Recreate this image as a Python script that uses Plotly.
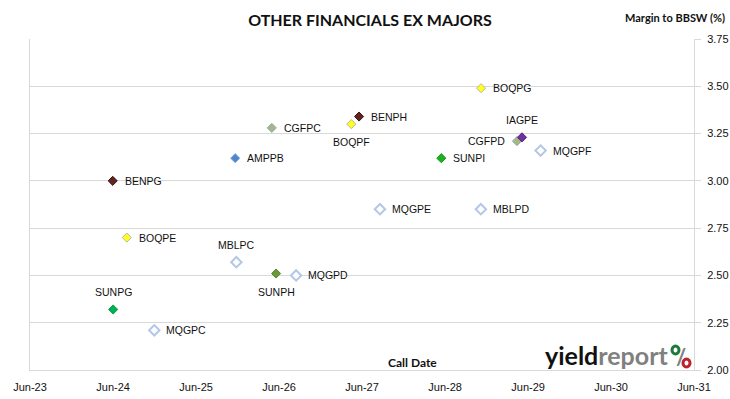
import plotly.graph_objects as go

# ---- data ----
securities = ["BENPG", "BOQPE", "SUNPG", "MQGPC", "AMPPB", "MBLPC", "CGFPC", "SUNPH", "MQGPD",
              "BOQPF", "BENPH", "MQGPE", "SUNPI", "BOQPG", "MBLPD", "CGFPD", "IAGPE", "MQGPF"]
call_dates = ["2024-05-30", "2024-07-31", "2024-06-01", "2024-11-29", "2025-11-20", "2025-11-25",
              "2026-04-30", "2026-05-19", "2026-08-15", "2027-04-15", "2027-05-19", "2027-08-19",
              "2028-05-15", "2028-11-06", "2028-11-05", "2029-04-13", "2029-05-05", "2029-07-26"]
margins = [3.00, 2.70, 2.32, 2.21, 3.12, 2.57, 3.28, 2.51, 2.50,
           3.30, 3.34, 2.85, 3.12, 3.49, 2.85, 3.21, 3.23, 3.16]
label_side = ["r", "r", "t", "r", "r", "t", "r", "b", "r",
              "b", "r", "r", "r", "r", "r", "l", "t", "r"]
x_ticks = ["2023-06-01", "2024-06-01", "2025-06-01", "2026-06-01", "2027-06-01",
           "2028-06-01", "2029-06-01", "2030-06-01", "2031-06-01"]
y_ticks = [2.00, 2.25, 2.50, 2.75, 3.00, 3.25, 3.50, 3.75]

# ---- styles per issuer ----
styles = {
    "BENPG": ("#632420", "#3A1210", 7, 1),
    "BENPH": ("#632420", "#3A1210", 7, 1),
    "BOQPE": ("#FFFF20", "#B8B8A0", 7, 1),
    "BOQPF": ("#FFFF20", "#B8B8A0", 7, 1),
    "BOQPG": ("#FFFF20", "#B8B8A0", 7, 1),
    "SUNPG": ("#00B050", "#00A048", 7, 1),
    "SUNPH": ("#6A993A", "#5A8530", 7, 1),
    "SUNPI": ("#1DB01D", "#129A12", 7, 1),
    "AMPPB": ("#4F86CC", "#7FA6DA", 7, 1),
    "CGFPC": ("#A7B87E", "#8FAACA", 7, 1),
    "CGFPD": ("#A7B87E", "#8FAACA", 7, 1),
    "IAGPE": ("#7030A0", "#5A2080", 7, 1),
    "MQGPC": ("#FFFFFF", "#B4C7E7", 8, 2),
    "MQGPD": ("#FFFFFF", "#B4C7E7", 8, 2),
    "MQGPE": ("#FFFFFF", "#B4C7E7", 8, 2),
    "MQGPF": ("#FFFFFF", "#B4C7E7", 8, 2),
    "MBLPC": ("#FFFFFF", "#B4C7E7", 8, 2),
    "MBLPD": ("#FFFFFF", "#B4C7E7", 8, 2),
}

FONT = "Liberation Sans, Arial, sans-serif"
NARROW = "Lato, Liberation Sans, sans-serif"

fig = go.Figure()
fig.add_trace(go.Scatter(
    x=call_dates, y=margins, mode="markers",
    marker=dict(symbol="diamond", opacity=1,
                color=[styles[s][0] for s in securities],
                size=[styles[s][2] for s in securities],
                line=dict(color=[styles[s][1] for s in securities],
                          width=[styles[s][3] for s in securities])),
    hovertext=securities, showlegend=False,
))

annotations = []
for s, d, m, side in zip(securities, call_dates, margins, label_side):
    a = dict(x=d, y=m, xref="x", yref="y", text=s, showarrow=False,
             font=dict(family=FONT, size=10.5, color="#111111"))
    if side == "r":
        a.update(xanchor="left", yanchor="middle", xshift=10)
    elif side == "l":
        a.update(xanchor="right", yanchor="middle", xshift=-10)
    elif side == "t":
        a.update(xanchor="center", yanchor="middle", yshift=17)
    else:
        a.update(xanchor="center", yanchor="middle", yshift=-18)
    annotations.append(a)

L, R, T, B = 30, 36, 39, 29
W, H = 730, 399
pw, ph = W - L - R, H - T - B

def px(xp):
    return (xp - L) / pw

def py(yp):
    return (H - B - yp) / ph

annotations += [
    dict(x=px(727), y=py(18), xref="paper", yref="paper", xanchor="right", yanchor="middle",
         text="<b>Margin to BBSW (%)</b>", showarrow=False,
         font=dict(family=NARROW, size=11, color="#111111")),
    dict(x=px(412), y=py(362), xref="paper", yref="paper", xanchor="center", yanchor="middle",
         text="<b>Call Date</b>", showarrow=False,
         font=dict(family=NARROW, size=12, color="#111111")),
    dict(x=px(543), y=py(355), xref="paper", yref="paper", xanchor="left", yanchor="middle",
         text="<b>yield<span style='color:#808080'>report</span></b>", showarrow=False,
         font=dict(family=NARROW, size=25, color="#111111")),
    dict(x=px(681), y=py(356), xref="paper", yref="paper", xanchor="center", yanchor="middle",
         text="<b>/</b>", showarrow=False,
         font=dict(family=NARROW, size=22, color="#7F7F7F")),
]

shapes = [
    dict(type="circle", xref="paper", yref="paper",
         x0=px(672), x1=px(679), y0=py(354), y1=py(346),
         line=dict(color="#1E7A3A", width=3), fillcolor="rgba(0,0,0,0)"),
    dict(type="circle", xref="paper", yref="paper",
         x0=px(683), x1=px(690), y0=py(367), y1=py(359),
         line=dict(color="#C0202A", width=3), fillcolor="rgba(0,0,0,0)"),
]

fig.update_layout(
    width=W, height=H, autosize=False,
    margin=dict(l=L, r=R, t=T, b=B, pad=0),
    paper_bgcolor="white", plot_bgcolor="white",
    title=dict(text="<b>OTHER FINANCIALS EX MAJORS</b>", x=370 / W, xanchor="center",
               y=1 - 20 / H, yanchor="middle", yref="container",
               font=dict(family=NARROW, size=16, color="#111111")),
    annotations=annotations, shapes=shapes,
    xaxis=dict(type="date", range=[x_ticks[0], x_ticks[-1]], tickvals=x_ticks,
               tickformat="%b-%y", showgrid=False, zeroline=False, automargin=False,
               showline=True, linecolor="#D9D9D9", linewidth=1,
               ticks="", ticklabelstandoff=7,
               tickfont=dict(family=FONT, size=11, color="#111111")),
    yaxis=dict(range=[y_ticks[0], y_ticks[-1]], tickvals=y_ticks, tickformat=".2f",
               side="right", showgrid=True, gridcolor="#D9D9D9", gridwidth=1, automargin=False,
               zeroline=False, showline=True, linecolor="#D9D9D9", linewidth=1, mirror=True,
               ticks="outside", ticklen=6, tickcolor="#D9D9D9", ticklabelstandoff=4,
               tickfont=dict(family=FONT, size=11, color="#111111")),
    font=dict(family=FONT),
)

fig.write_html("out.html", config={"displayModeBar": False},
               post_script="document.body.style.margin='0px';document.body.style.overflow='hidden';")
